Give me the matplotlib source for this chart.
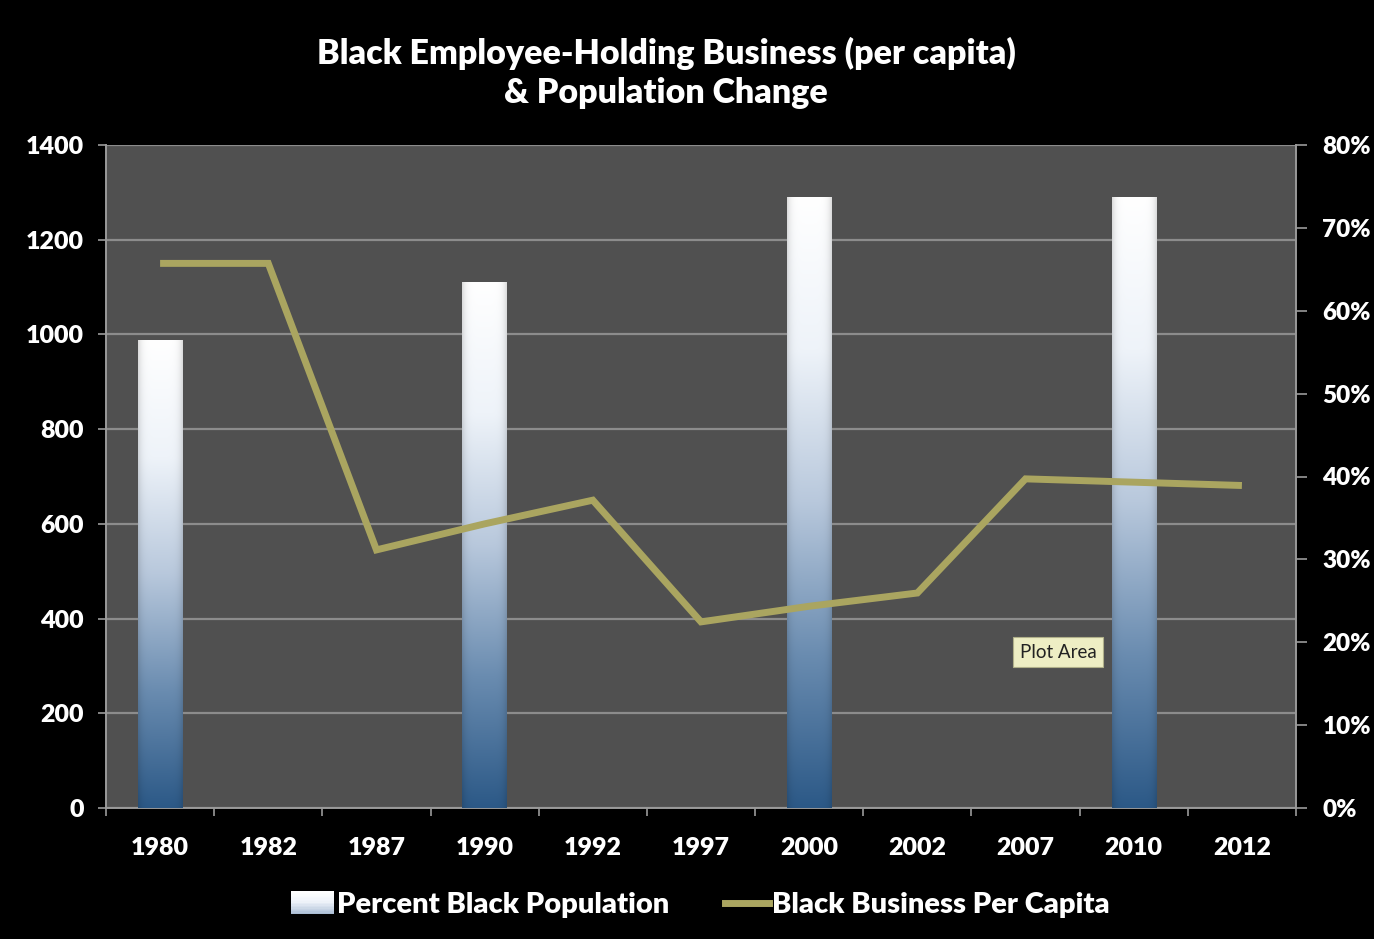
import numpy as np
import matplotlib.pyplot as plt
from matplotlib.colors import LinearSegmentedColormap
from matplotlib.legend_handler import HandlerBase
from matplotlib.patches import Rectangle, Patch
from matplotlib.lines import Line2D
from matplotlib.ticker import MultipleLocator, FixedLocator

plt.rcParams['font.family'] = ['Lato', 'DejaVu Sans']

years = ['1980', '1982', '1987', '1990', '1992', '1997',
         '2000', '2002', '2007', '2010', '2012']
business_per_capita = [1150, 1150, 545, 600, 650, 393, 426, 454, 695, 688, 681]

bar_years = ['1980', '1990', '2000', '2010']
pct_black = [56.4, 63.4, 73.7, 73.7]

title = 'Black Employee-Holding Business (per capita)\n& Population Change'
bar_label = 'Percent Black Population'
line_label = 'Black Business Per Capita'

BG = 'black'
PLOT_BG = '#505050'
GRID = '#8c8c8c'
AXIS = '#9a9a9a'
LINE = '#aaa560'
TXT = 'white'
WEIGHT = 'heavy'

bar_cmap = LinearSegmentedColormap.from_list(
    'bar', ['#2c5987', '#6a8cb0', '#b8c8dc', '#eef3f9', '#ffffff'])

fig = plt.figure(figsize=(13.74, 9.39), dpi=100, facecolor=BG)
rect = [106 / 1374, 1 - 808 / 939, 1190 / 1374, 663 / 939]

# left axis: grid + business per capita scale
ax = fig.add_axes(rect)
ax.set_facecolor(PLOT_BG)
x = np.arange(len(years))
ax.set_xlim(-0.5, len(years) - 0.5)
ax.set_ylim(0, 1400)
ax.yaxis.set_major_locator(MultipleLocator(200))
ax.grid(axis='y', color=GRID, linewidth=1.6, zorder=0)
ax.set_axisbelow(True)
ax.set_xticks(x)
ax.set_xticklabels(years)
ax.xaxis.set_minor_locator(FixedLocator(np.arange(-0.5, len(years), 1.0)))
ax.tick_params(axis='x', which='major', length=0, pad=21,
               labelsize=18, labelcolor=TXT)
ax.tick_params(axis='x', which='minor', length=6, width=1.2, color=AXIS)
ax.tick_params(axis='y', length=6, width=1.2, color=AXIS,
               labelsize=18, labelcolor=TXT, pad=10)
for lab in ax.get_xticklabels() + ax.get_yticklabels():
    lab.set_fontweight(WEIGHT)
for side in ['left', 'bottom']:
    ax.spines[side].set_color(AXIS)
    ax.spines[side].set_linewidth(1.4)
ax.spines['top'].set_visible(False)
ax.spines['right'].set_visible(False)

# right axis: percent black population bars
ax2 = ax.twinx()
ax2.set_ylim(0, 80)
ax2.set_yticks(np.arange(0, 81, 10))
ax2.set_yticklabels([f'{v}%' for v in range(0, 81, 10)])
ax2.tick_params(axis='y', length=8, width=1.2, color=AXIS,
                labelsize=17.5, labelcolor=TXT, pad=11)
for lab in ax2.get_yticklabels():
    lab.set_fontweight(WEIGHT)
for side in ['left', 'top', 'bottom']:
    ax2.spines[side].set_visible(False)
ax2.spines['right'].set_color(AXIS)
ax2.spines['right'].set_linewidth(1.4)

bar_x = [years.index(y) for y in bar_years]
bars = ax2.bar(bar_x, pct_black, width=0.41, color='none', zorder=2)

# vertical gradient, slightly darker at the bar edges
gy = np.linspace(0, 1, 256)[:, None]
gx = np.linspace(-1, 1, 64)[None, :]
shade = 1 - 0.14 * np.abs(gx) ** 6
for b in bars:
    x0, w, h = b.get_x(), b.get_width(), b.get_height()
    rgb = bar_cmap(gy * np.ones_like(gx))[..., :3] * shade[..., None]
    ax2.imshow(rgb, extent=[x0, x0 + w, 0, h], origin='lower',
               aspect='auto', interpolation='bicubic', zorder=2)
ax2.set_xlim(-0.5, len(years) - 0.5)
ax2.set_ylim(0, 80)

# line on top of the bars, sharing the left scale
ax3 = ax.twinx()
ax3.set_ylim(0, 1400)
ax3.axis('off')
ax3.plot(x, business_per_capita, color=LINE, linewidth=5,
         solid_joinstyle='miter', solid_capstyle='butt', zorder=3)
ax3.set_xlim(-0.5, len(years) - 0.5)

fig.text(666 / 1374, 1 - 73 / 939, title, ha='center', va='center', color=TXT,
         fontsize=24.5, fontweight=WEIGHT, linespacing=1.3)

fig.text(1058 / 1374, 1 - 652 / 939, 'Plot Area', ha='center', va='center',
         fontsize=13.5, color='#222222',
         bbox=dict(boxstyle='square,pad=0.35', facecolor='#eeeec4',
                   edgecolor='#b0b08a', linewidth=0.8))


class GradientHandler(HandlerBase):
    # legend swatch: white at the top fading to blue-grey at the bottom
    def create_artists(self, legend, orig_handle, xdescent, ydescent,
                       width, height, fontsize, trans):
        n = 16
        arts = []
        h = height + 2
        for i in range(n):
            c = bar_cmap(0.45 + 0.55 * i / (n - 1))
            r = Rectangle((-xdescent, -ydescent - 1 + h * i / n),
                          width, h / n + 0.3, facecolor=c,
                          edgecolor='none', transform=trans)
            arts.append(r)
        return arts


handles = [Patch(label=bar_label),
           Line2D([], [], color=LINE, linewidth=5, label=line_label)]
leg = fig.legend(handles=handles, loc='center',
                 bbox_to_anchor=(700 / 1374, 1 - 905 / 939), ncol=2,
                 frameon=False, handlelength=1.5, handletextpad=0.1,
                 columnspacing=1.9, prop={'size': 21, 'weight': WEIGHT},
                 handler_map={Patch: GradientHandler()})
for t in leg.get_texts():
    t.set_color(TXT)

fig.savefig('out.png', dpi=100, facecolor=BG)
